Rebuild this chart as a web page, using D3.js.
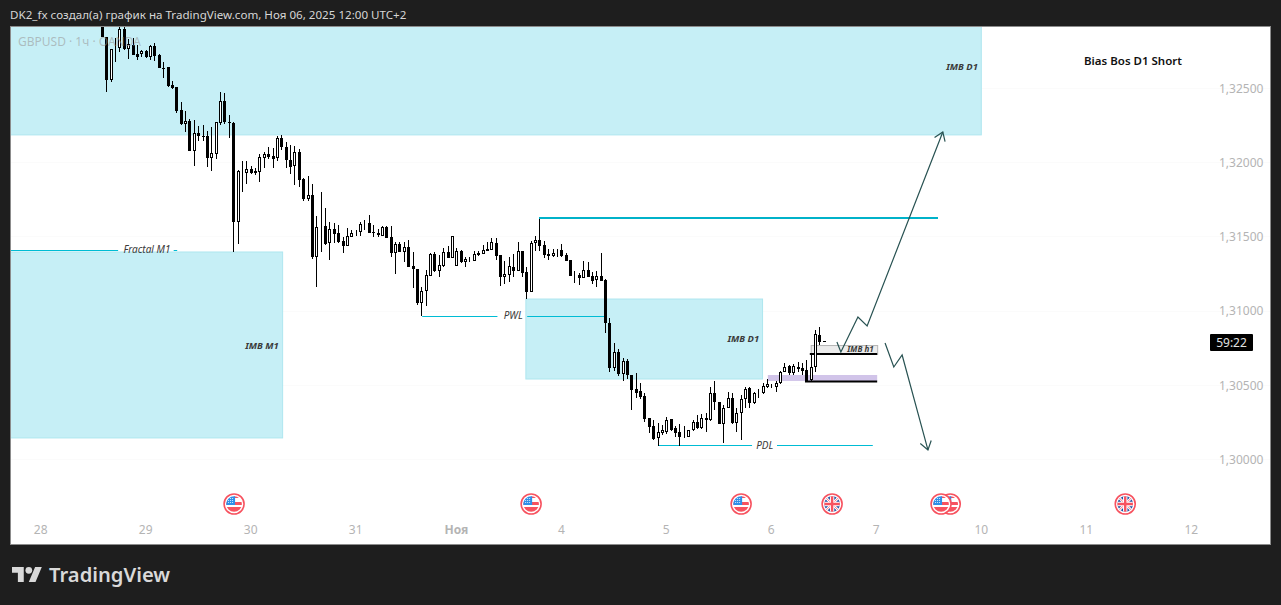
<!DOCTYPE html>
<html>
<head>
<meta charset="utf-8">
<title>GBPUSD</title>
<script src="https://cdn.jsdelivr.net/npm/d3@7"></script>
<style>
  html, body { margin: 0; padding: 0; background: #1e1e1e; }
  svg { display: block; }
  text { font-family: "Noto Sans", sans-serif; }
</style>
</head>
<body>
<div id="drawing_region"></div>
<script>
// hourly bars, bar 0 = 28 Oct 00:00, weekend closed up
const firstBar = 14;
const opens = [
1.32959,1.32844,1.32554,1.32770,1.32770,1.32898,1.32763,1.32790,1.32730,1.32730,
1.32750,1.32709,1.32784,1.32723,1.32635,1.32642,1.32521,1.32507,1.32352,1.32258,
1.32278,1.32076,1.32197,1.32177,1.32177,1.32029,1.32056,1.32265,1.32413,1.32271,
1.32265,1.31597,1.31941,1.31928,1.31955,1.31941,1.31934,1.32029,1.32056,1.32042,
1.32029,1.32164,1.32103,1.32015,1.31975,1.32069,1.31887,1.31752,1.31779,1.31361,
1.31564,1.31570,1.31456,1.31550,1.31523,1.31469,1.31436,1.31496,1.31523,1.31530,
1.31584,1.31591,1.31530,1.31523,1.31503,1.31564,1.31496,1.31388,1.31449,1.31395,
1.31429,1.31301,1.31281,1.31051,1.31132,1.31233,1.31382,1.31267,1.31301,1.31395,
1.31355,1.31301,1.31402,1.31328,1.31348,1.31335,1.31388,1.31382,1.31415,1.31409,
1.31456,1.31375,1.31227,1.31240,1.31294,1.31267,1.31402,1.31260,1.31126,1.31456,
1.31476,1.31442,1.31382,1.31368,1.31388,1.31409,1.31375,1.31341,1.31240,1.31240,
1.31220,1.31274,1.31233,1.31206,1.31233,1.31206,1.30917,1.30613,1.30721,1.30573,
1.30661,1.30566,1.30472,1.30458,1.30425,1.30276,1.30222,1.30142,1.30175,1.30182,
1.30270,1.30209,1.30182,1.30148,1.30148,1.30195,1.30249,1.30209,1.30276,1.30263,
1.30445,1.30384,1.30236,1.30344,1.30411,1.30243,1.30310,1.30404,1.30479,1.30377,
1.30438,1.30445,1.30485,1.30485,1.30485,1.30512,1.30586,1.30627,1.30580,1.30620,
1.30613,1.30600,1.30532,1.30620,1.30836,1.30792];
const highs = [
1.32993,1.32844,1.32763,1.32838,1.32912,1.32912,1.32831,1.32838,1.32790,1.32757,
1.32757,1.32790,1.32804,1.32730,1.32676,1.32642,1.32548,1.32507,1.32406,1.32346,
1.32292,1.32285,1.32244,1.32251,1.32211,1.32238,1.32271,1.32474,1.32467,1.32319,
1.32271,1.31948,1.32009,1.32009,1.31975,1.31961,1.32056,1.32069,1.32103,1.32096,
1.32177,1.32184,1.32137,1.32116,1.32110,1.32089,1.31894,1.31907,1.31854,1.31638,
1.31800,1.31692,1.31597,1.31591,1.31577,1.31496,1.31557,1.31543,1.31543,1.31597,
1.31611,1.31645,1.31577,1.31550,1.31570,1.31570,1.31570,1.31463,1.31463,1.31463,
1.31476,1.31395,1.31281,1.31159,1.31274,1.31388,1.31395,1.31375,1.31422,1.31436,
1.31503,1.31422,1.31409,1.31361,1.31361,1.31402,1.31402,1.31442,1.31463,1.31490,
1.31490,1.31375,1.31335,1.31361,1.31382,1.31463,1.31402,1.31294,1.31469,1.31503,
1.31618,1.31469,1.31415,1.31415,1.31415,1.31449,1.31388,1.31341,1.31267,1.31254,
1.31335,1.31328,1.31260,1.31267,1.31388,1.31213,1.30950,1.30782,1.30741,1.30681,
1.30674,1.30566,1.30580,1.30512,1.30445,1.30276,1.30263,1.30243,1.30229,1.30283,
1.30270,1.30222,1.30236,1.30222,1.30195,1.30263,1.30297,1.30303,1.30310,1.30485,
1.30526,1.30384,1.30364,1.30452,1.30445,1.30344,1.30431,1.30485,1.30485,1.30452,
1.30472,1.30512,1.30539,1.30506,1.30526,1.30593,1.30647,1.30634,1.30640,1.30654,
1.30647,1.30667,1.30714,1.30869,1.30890,1.30792];
const lows = [
1.32844,1.32474,1.32541,1.32676,1.32743,1.32757,1.32696,1.32723,1.32689,1.32709,
1.32703,1.32689,1.32683,1.32635,1.32568,1.32507,1.32494,1.32332,1.32251,1.32204,
1.32076,1.31975,1.32143,1.32143,1.31968,1.31941,1.32022,1.32251,1.32258,1.32164,
1.31395,1.31449,1.31800,1.31854,1.31921,1.31914,1.31867,1.31961,1.32022,1.31961,
1.32009,1.32083,1.31961,1.31921,1.31847,1.31833,1.31739,1.31739,1.31348,1.31159,
1.31395,1.31442,1.31341,1.31456,1.31456,1.31388,1.31436,1.31496,1.31503,1.31503,
1.31543,1.31523,1.31496,1.31496,1.31503,1.31490,1.31361,1.31247,1.31395,1.31328,
1.31294,1.31153,1.31038,1.30964,1.31031,1.31233,1.31260,1.31227,1.31294,1.31355,
1.31355,1.31301,1.31321,1.31294,1.31328,1.31335,1.31368,1.31382,1.31402,1.31409,
1.31341,1.31166,1.31180,1.31193,1.31227,1.31267,1.31227,1.31078,1.31126,1.31402,
1.31402,1.31355,1.31341,1.31361,1.31361,1.31361,1.31335,1.31233,1.31186,1.31173,
1.31220,1.31227,1.31180,1.31159,1.31200,1.30849,1.30586,1.30593,1.30559,1.30526,
1.30539,1.30330,1.30411,1.30404,1.30249,1.30175,1.30128,1.30088,1.30162,1.30168,
1.30189,1.30148,1.30088,1.30142,1.30148,1.30189,1.30202,1.30202,1.30182,1.30256,
1.30330,1.30236,1.30108,1.30344,1.30236,1.30182,1.30128,1.30344,1.30344,1.30371,
1.30411,1.30438,1.30479,1.30479,1.30452,1.30506,1.30586,1.30566,1.30566,1.30586,
1.30566,1.30526,1.30526,1.30586,1.30768,1.30786];
const closes = [
1.32844,1.32554,1.32763,1.32770,1.32898,1.32763,1.32797,1.32723,1.32709,1.32750,
1.32709,1.32784,1.32716,1.32635,1.32632,1.32514,1.32501,1.32346,1.32258,1.32278,
1.32076,1.32197,1.32177,1.32174,1.32029,1.32062,1.32271,1.32413,1.32271,1.32268,
1.31597,1.31941,1.31941,1.31955,1.31928,1.31928,1.32035,1.32056,1.32035,1.32022,
1.32164,1.32103,1.32015,1.31968,1.32069,1.31880,1.31752,1.31779,1.31361,1.31564,
1.31570,1.31449,1.31550,1.31517,1.31463,1.31436,1.31503,1.31523,1.31523,1.31584,
1.31584,1.31523,1.31527,1.31510,1.31564,1.31490,1.31388,1.31449,1.31395,1.31429,
1.31294,1.31281,1.31051,1.31132,1.31240,1.31382,1.31267,1.31308,1.31395,1.31355,
1.31503,1.31402,1.31328,1.31348,1.31348,1.31382,1.31375,1.31409,1.31402,1.31463,
1.31368,1.31227,1.31247,1.31301,1.31267,1.31402,1.31254,1.31126,1.31456,1.31476,
1.31436,1.31375,1.31368,1.31388,1.31388,1.31368,1.31335,1.31233,1.31240,1.31220,
1.31274,1.31227,1.31200,1.31233,1.31200,1.30917,1.30613,1.30721,1.30573,1.30661,
1.30566,1.30465,1.30445,1.30418,1.30270,1.30216,1.30135,1.30182,1.30195,1.30263,
1.30195,1.30175,1.30148,1.30148,1.30195,1.30249,1.30209,1.30276,1.30263,1.30445,
1.30384,1.30236,1.30344,1.30411,1.30243,1.30310,1.30404,1.30472,1.30377,1.30445,
1.30438,1.30492,1.30506,1.30485,1.30512,1.30586,1.30620,1.30580,1.30627,1.30607,
1.30593,1.30526,1.30620,1.30843,1.30789,1.30786];

const priceTicks = [1.30, 1.305, 1.31, 1.315, 1.32, 1.325];
const dayTickBars = [0, 24, 48, 72, 95, 119, 143, 167, 191, 215, 239, 263];
const dayTickLabels = ['28', '29', '30', '31', 'Ноя', '4', '5', '6', '7', '10', '11', '12'];

// zones: bar from, bar to, price top, price bottom
const zoneLabels = ['IMB D1', 'IMB M1', 'IMB D1'];
const zoneBarsFrom = [-7, -7, 110.9];
const zoneBarsTo = [215.0, 55.3, 165.0];
const zoneTops = [1.3295, 1.31395, 1.31078];
const zoneBottoms = [1.32184, 1.30142, 1.30539];
const zoneLabelBars = [214.2, 54.4, 164.2];
const zoneLabelPrices = [1.32621, 1.30738, 1.30791];

// horizontal levels with text: line runs from..to, gap around the text
const levelLabels = ['Fractal M1', 'PWL', 'PDL'];
const levelPrices = [1.31409, 1.30964, 1.30091];
const levelFrom = [-7, 87.2, 141.1];
const levelTo = [31.2, 129.3, 190.2];
const levelGapFrom = [17.7, 104.4, 162.6];
const levelGapTo = [30.4, 111.2, 168.3];
const levelLabelBars = [24.3, 108, 165.5];
const highLinePrice = 1.31624;
const highLineBars = [113.9, 205.1];

// arrows
const upArrowBars = [182, 182.9, 186.8, 188.9, 206.2];
const upArrowPrices = [1.30789, 1.30721, 1.30957, 1.30896, 1.32204];
const downArrowBars = [193, 195, 196.9, 202.8];
const downArrowPrices = [1.30782, 1.30620, 1.30701, 1.30061];

const eventBars = [44.2, 112.1, 160.1, 180.9, 207.9, 205.8, 247.9];
const eventKinds = ['us', 'us', 'us', 'uk', 'us', 'us', 'uk'];

const config = {
    width: 1281,
    height: 605,
    plot: { left: 10, right: 1271, top: 27, bottom: 544 }
};

const svg = d3.select('#drawing_region').append('svg')
    .attr('width', config.width)
    .attr('height', config.height)
    .attr('viewBox', `0 0 ${config.width} ${config.height}`);

const x = d3.scaleLinear().domain([0, 263]).range([40.7, 1191.3]);
const y = d3.scaleLinear().domain([1.30, 1.325]).range([459, 88]);
const p = config.plot;

svg.append('rect').attr('width', config.width).attr('height', config.height).attr('fill', '#1e1e1e');
svg.append('rect')
    .attr('x', p.left + 0.5).attr('y', p.top - 0.5)
    .attr('width', p.right - p.left - 1).attr('height', p.bottom - p.top + 1)
    .attr('fill', '#ffffff').attr('stroke', '#8c8c8c').attr('stroke-width', 1);

const defs = svg.append('defs');
defs.append('clipPath').attr('id', 'plot-clip').append('rect')
    .attr('x', p.left + 1).attr('y', p.top)
    .attr('width', p.right - p.left - 2).attr('height', p.bottom - p.top);

// header
svg.append('text').attr('x', 10).attr('y', 18.5)
    .attr('fill', '#d6d6d6').attr('font-size', 11.6)
    .text('DK2_fx создал(а) график на TradingView.com, Ноя 06, 2025 12:00 UTC+2');

const chart = svg.append('g').attr('clip-path', 'url(#plot-clip)');

// faint grid
chart.append('g').selectAll('line').data(priceTicks).enter().append('line')
    .attr('x1', p.left).attr('x2', p.right)
    .attr('y1', d => Math.round(y(d)) + 0.5).attr('y2', d => Math.round(y(d)) + 0.5)
    .attr('stroke', '#fbfbfb');

// zones
chart.append('g').selectAll('rect').data(zoneLabels).enter().append('rect')
    .attr('x', (d, i) => x(zoneBarsFrom[i]))
    .attr('y', (d, i) => y(zoneTops[i]))
    .attr('width', (d, i) => x(zoneBarsTo[i]) - x(zoneBarsFrom[i]))
    .attr('height', (d, i) => y(zoneBottoms[i]) - y(zoneTops[i]))
    .attr('fill', '#c6eff6').attr('stroke', '#aee6ef').attr('stroke-width', 1);

// purple and grey blocks near the last bars
chart.append('rect')
    .attr('x', x(166.2)).attr('y', y(1.30566))
    .attr('width', x(191.2) - x(166.2)).attr('height', y(1.30526) - y(1.30566))
    .attr('fill', '#d1c4e9');
chart.append('rect')
    .attr('x', x(176) + 0.5).attr('y', y(1.30768) + 0.5)
    .attr('width', x(191.2) - x(176)).attr('height', y(1.30708) - y(1.30768))
    .attr('fill', '#ececec').attr('stroke', '#b5b5b5').attr('stroke-width', 1);

// levels
const levelGroup = chart.append('g').attr('stroke', '#00bcd4').attr('stroke-width', 1);
levelLabels.forEach((d, i) => {
    const ly = Math.round(y(levelPrices[i])) + 0.5;
    levelGroup.append('line').attr('x1', x(levelFrom[i])).attr('x2', x(levelGapFrom[i])).attr('y1', ly).attr('y2', ly);
    levelGroup.append('line').attr('x1', x(levelGapTo[i])).attr('x2', x(levelTo[i])).attr('y1', ly).attr('y2', ly);
});
chart.append('line')
    .attr('x1', x(highLineBars[0])).attr('x2', x(highLineBars[1]))
    .attr('y1', y(highLinePrice)).attr('y2', y(highLinePrice))
    .attr('stroke', '#00b2c9').attr('stroke-width', 2);

// black levels under the last bars
[[1.30708, 175.8], [1.30523, 174.7]].forEach(d => {
    chart.append('line')
        .attr('x1', x(d[1])).attr('x2', x(191.2))
        .attr('y1', y(d[0])).attr('y2', y(d[0]))
        .attr('stroke', '#000').attr('stroke-width', 2);
});

// candles
const candles = opens.map((o, i) => ({ bar: firstBar + i, o: o, h: highs[i], l: lows[i], c: closes[i] }));
const candleGroup = chart.append('g').attr('shape-rendering', 'crispEdges');
candleGroup.selectAll('rect.wick').data(candles).enter().append('rect')
    .attr('class', 'wick')
    .attr('x', d => Math.round(x(d.bar)))
    .attr('y', d => Math.round(y(d.h)))
    .attr('width', 1)
    .attr('height', d => Math.max(1, Math.round(y(d.l)) - Math.round(y(d.h))))
    .attr('fill', '#000');
candleGroup.selectAll('rect.body').data(candles).enter().append('rect')
    .attr('class', 'body')
    .attr('x', d => Math.round(x(d.bar)) - (d.c < d.o ? 1 : 0.5))
    .attr('y', d => Math.round(y(Math.max(d.o, d.c))) + (d.c < d.o ? 0 : 0.5))
    .attr('width', d => d.c < d.o ? 3 : 2)
    .attr('height', d => {
        const h = Math.round(y(Math.min(d.o, d.c))) - Math.round(y(Math.max(d.o, d.c)));
        return d.c < d.o ? Math.max(1, h) : Math.max(0, h - 1);
    })
    .attr('fill', d => d.c < d.o ? '#000' : '#fff')
    .attr('stroke', d => d.c < d.o ? 'none' : '#000')
    .attr('stroke-width', 1);

// arrows
function drawArrow(bars, prices) {
    const pts = bars.map((b, i) => [x(b), y(prices[i])]);
    const line = d3.line();
    chart.append('path').attr('d', line(pts)).attr('fill', 'none')
        .attr('stroke', '#285252').attr('stroke-width', 1.2);
    const a = pts[pts.length - 1], b = pts[pts.length - 2];
    const ang = Math.atan2(b[1] - a[1], b[0] - a[0]);
    const head = [
        [a[0] + 10 * Math.cos(ang + 0.6), a[1] + 10 * Math.sin(ang + 0.6)],
        a,
        [a[0] + 10 * Math.cos(ang - 0.6), a[1] + 10 * Math.sin(ang - 0.6)]
    ];
    chart.append('path').attr('d', line(head)).attr('fill', 'none')
        .attr('stroke', '#285252').attr('stroke-width', 1.2);
}
drawArrow(upArrowBars, upArrowPrices);
drawArrow(downArrowBars, downArrowPrices);

// italic labels
const labelStyle = sel => sel
    .attr('font-family', '"Liberation Sans", sans-serif')
    .attr('font-style', 'italic').attr('font-weight', 'bold')
    .attr('font-size', 9.4).attr('fill', '#3a3a3a').attr('text-anchor', 'end');
chart.append('g').selectAll('text').data(zoneLabels).enter().append('text')
    .call(labelStyle)
    .attr('x', (d, i) => x(zoneLabelBars[i]))
    .attr('y', (d, i) => y(zoneLabelPrices[i]))
    .text(d => d);
chart.append('g').selectAll('text').data(levelLabels).enter().append('text')
    .call(labelStyle)
    .attr('font-size', 10).attr('font-weight', 'normal')
    .attr('text-anchor', 'middle')
    .attr('x', (d, i) => x(levelLabelBars[i]))
    .attr('y', (d, i) => y(levelPrices[i]) + 3.5)
    .text(d => d);
chart.append('text').call(labelStyle)
    .attr('font-size', 8)
    .attr('x', x(190.4)).attr('y', y(1.30738) + 3)
    .text('IMB h1');

// watermark
chart.append('text').attr('x', 18).attr('y', 46)
    .attr('fill', '#9a9a9a').attr('fill-opacity', 0.6).attr('font-size', 12)
    .text('GBPUSD · 1ч · OANDA');

chart.append('text')
    .attr('x', 1084).attr('y', 65)
    .attr('fill', '#111').attr('font-size', 11.5).attr('font-weight', 600)
    .text('Bias Bos D1 Short');

// event flags
eventKinds.forEach((kind, i) => {
    const cx = x(eventBars[i]), cy = 504;
    const g = svg.append('g').attr('transform', `translate(${cx},${cy})`);
    const id = 'flag-' + i;
    defs.append('clipPath').attr('id', id).append('circle').attr('r', 7.8);
    g.append('circle').attr('r', 10).attr('fill', '#fff').attr('stroke', '#f7525f').attr('stroke-width', 1.6);
    const f = g.append('g').attr('clip-path', `url(#${id})`);
    f.append('rect').attr('x', -9).attr('y', -9).attr('width', 18).attr('height', 18).attr('fill', '#fff');
    if (kind === 'us') {
        f.append('rect').attr('x', -9).attr('y', -2).attr('width', 18).attr('height', 3).attr('fill', '#f7525f');
        f.append('rect').attr('x', -9).attr('y', 3).attr('width', 18).attr('height', 6).attr('fill', '#f7525f');
        f.append('rect').attr('x', 0).attr('y', -9).attr('width', 9).attr('height', 3).attr('fill', '#f7525f');
        f.append('rect').attr('x', -9).attr('y', -9).attr('width', 10).attr('height', 10).attr('fill', '#2e8fe8');
        d3.range(-6, 0, 2).forEach(a => d3.range(-6, 0, 2).forEach(b => {
            f.append('rect').attr('x', a).attr('y', b).attr('width', 1).attr('height', 1).attr('fill', '#cfe6fb');
        }));
    } else {
        f.append('rect').attr('x', -9).attr('y', -9).attr('width', 18).attr('height', 18).attr('fill', '#1f4fa3');
        f.append('path').attr('d', 'M-9,-9L9,9M9,-9L-9,9').attr('stroke', '#fff').attr('stroke-width', 2.6);
        f.append('path').attr('d', 'M-9,-9L9,9M9,-9L-9,9').attr('stroke', '#f7525f').attr('stroke-width', 0.8);
        f.append('path').attr('d', 'M0,-9V9M-9,0H9').attr('stroke', '#fff').attr('stroke-width', 4.4);
        f.append('path').attr('d', 'M0,-9V9M-9,0H9').attr('stroke', '#f7525f').attr('stroke-width', 2.4);
    }
});

// axes
const priceAxis = d3.axisRight(y).tickValues(priceTicks).tickSize(0).tickPadding(0)
    .tickFormat(d => d3.format('.5f')(d).replace('.', ','));
const pa = svg.append('g').attr('transform', 'translate(1219,0.5)').call(priceAxis);
pa.select('.domain').remove();
pa.selectAll('text').attr('fill', '#b4b4b4').attr('font-size', 12)
    .attr('font-family', '"Noto Sans", sans-serif');

const timeAxis = d3.axisBottom(x).tickValues(dayTickBars).tickSize(0).tickPadding(0)
    .tickFormat((d, i) => dayTickLabels[i]);
const ta = svg.append('g').attr('transform', 'translate(-0.5,525.5)').call(timeAxis);
ta.select('.domain').remove();
ta.selectAll('text').attr('fill', '#b4b4b4').attr('font-size', 12)
    .attr('font-family', '"Noto Sans", sans-serif')
    .attr('font-weight', d => d === 95 ? 'bold' : 'normal');

// countdown
svg.append('rect').attr('x', 1210).attr('y', 334).attr('width', 43).attr('height', 17).attr('rx', 1).attr('fill', '#000');
svg.append('text').attr('x', 1231.5).attr('y', 347).attr('text-anchor', 'middle')
    .attr('fill', '#e0e0e0').attr('font-size', 12).text('59:22');

// logo
const logo = svg.append('g').attr('transform', 'translate(12,563.6) scale(0.84)').attr('fill', '#d9d9d9');
logo.append('path').attr('d', 'M14 22H7V11H0V4h14v18zM28 22h-8l7.5-18h8L28 22z');
logo.append('circle').attr('cx', 20).attr('cy', 8).attr('r', 4);
svg.append('text').attr('x', 49).attr('y', 582)
    .attr('font-family', 'Inter, sans-serif').attr('font-weight', 600).attr('font-size', 20.2)
    .attr('fill', '#d9d9d9').text('TradingView');
</script>
</body>
</html>
